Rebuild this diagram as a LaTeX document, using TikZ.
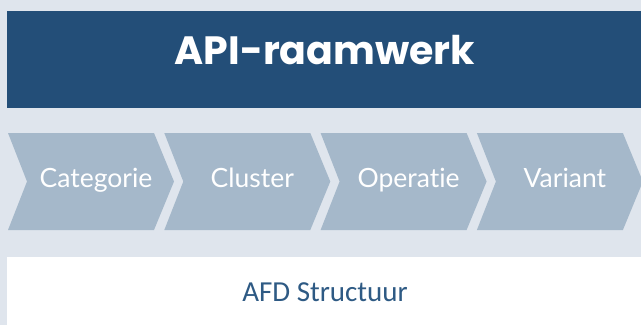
\documentclass[tikz,border=0pt]{standalone}
\usepackage{fontspec}
\setmainfont{Lato}[Ligatures=NoCommon]
\newfontfamily\titlefont{Poppins}
\newfontfamily\boxfont{Carlito}
\definecolor{bgc}{HTML}{DFE5ED}
\definecolor{banner}{HTML}{234E78}
\definecolor{chev}{HTML}{A5B8CA}
\definecolor{boxtext}{HTML}{2E5A84}
\tikzset{
  chevtext/.style={text=white, font=\fontsize{26.5}{30}\selectfont, anchor=base, inner sep=0pt},
  chevshape/.style={fill=chev, draw=none},
}
\begin{document}
\begin{tikzpicture}[x=1pt,y=-1pt]
\useasboundingbox (0,0) rectangle (641,325);
\clip (0,0) rectangle (641,325);
\fill[bgc] (0,0) rectangle (641,325);
\node[fill=banner, minimum width=634pt, minimum height=97pt, inner sep=0pt, anchor=north west] (banner) at (7,11) {};
\node[text=white, font=\titlefont\bfseries\fontsize{39.5}{45}\selectfont, inner sep=0pt, anchor=base] (title) at (325,64) {API-raamwerk};
\foreach \i/\t in {0/Categorie,1/Cluster,2/Operatie,3/Variant}{
  \pgfmathsetmacro{\xo}{8+156.3*\i}
  \fill[chevshape] (\xo,133) -- (\xo+146,133) -- (\xo+166,181.5) -- (\xo+146,230) -- (\xo,230) -- (\xo+19,181.5) -- cycle;
  \node[chevtext] (c\i) at (\xo+88,187) {\t};
}
\node[fill=white, minimum width=634pt, minimum height=69pt, inner sep=0pt, anchor=north west] (box) at (7,257) {};
\node[text=boxtext, font=\boxfont\fontsize{29}{33}\selectfont, inner sep=0pt, anchor=base] (boxlabel) at (325,301) {AFD Structuur};
\end{tikzpicture}
\end{document}
